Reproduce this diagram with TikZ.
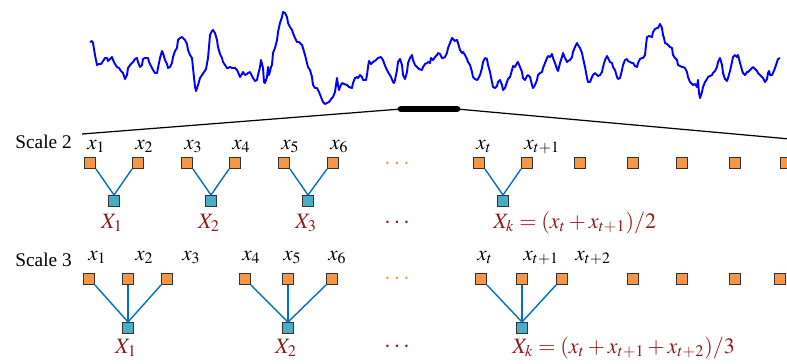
\documentclass[tikz,border=0pt]{standalone}
\usepackage{mathptmx}
\usepackage[no-math]{fontspec}
\setmainfont{Liberation Serif}
\usepackage{tikz}
\usetikzlibrary{positioning,calc}
\definecolor{sigblue}{HTML}{0000FF}
\definecolor{linkblue}{HTML}{0070C0}
\definecolor{rawor}{HTML}{F79646}
\definecolor{avgcyan}{HTML}{4BACC6}
\definecolor{avgred}{HTML}{8B1C1C}
\tikzset{
    every node/.style={font=\fontsize{11}{13}\selectfont},
    scaletxt/.style={anchor=base west,inner sep=0pt},
    rawsq/.style={rectangle,draw=black!80,fill=rawor,line width=0.6pt,minimum size=6.2pt,inner sep=0pt},
    avgsq/.style={rectangle,draw=black!80,fill=avgcyan,line width=0.6pt,minimum size=6.2pt,inner sep=0pt},
    rawlbl/.style={anchor=base west,inner sep=0pt,font=\fontsize{12}{14}\selectfont},
    avglbl/.style={anchor=base,inner sep=0pt,text=avgred,font=\fontsize{12.5}{14}\selectfont},
    avgeq/.style={anchor=base west,inner sep=0pt,text=avgred,font=\fontsize{12.5}{14}\selectfont},
    dotsnode/.style={inner sep=0pt,font=\fontsize{14}{16}\selectfont},
    link/.style={draw=linkblue,line width=0.8pt},
    signal/.style={draw=sigblue,line width=1.1pt,line join=round},
    zoomline/.style={draw=black,line width=0.7pt},
    zoombar/.style={draw=black,line width=3.8pt,line cap=round}
}
\begin{document}
\begin{tikzpicture}[x=0.02cm,y=-0.02cm]
\useasboundingbox (0,0) rectangle (787,363);

% signal
\draw[signal] plot coordinates {
(90,42) (92,41) (93,43) (95,55) (97,65) (99,64) (101,64) (103,61) (105,58) (107,58) (108,61) (110,59) (112,57) (113,60) (115,64) (117,67) (119,68) (121,71) (123,73) (125,79) (127,75) (128,68) (131,64) (133,62) (135,59) (137,58) (138,62) (140,67) (142,65) (143,59) (145,58) (148,58) (149,62) (151,66) (153,70) (155,73) (157,73) (158,68) (160,58) (162,51) (163,53) (165,60) (167,64) (168,68) (170,67) (172,63) (173,57) (175,51) (177,48) (178,40) (180,38) (182,37) (183,38) (185,40) (187,44) (188,50) (190,55) (192,58) (193,68) (195,87) (196,91) (198,85) (200,78) (202,75) (204,72) (206,69) (208,58) (209,47) (210,35) (212,31) (213,30) (215,33) (217,40) (218,47) (220,54) (222,58) (223,62) (225,65) (227,68) (228,68) (230,67) (232,68) (233,68) (235,68) (237,70) (238,72) (240,77) (242,74) (243,72) (245,75) (247,74) (248,73) (250,72) (252,76) (253,78) (255,81) (257,80) (258,75) (260,67) (261,60)
(263,68) (264,82) (265,83) (267,77) (268,67) (269,75) (271,67) (272,65) (273,53) (275,48) (277,40) (278,32) (280,23) (282,17) (283,12) (285,13) (287,17) (288,23) (290,27) (292,30) (293,33) (295,38) (297,42) (299,42) (302,45) (303,48) (305,55) (307,63) (308,67) (310,70) (312,77) (313,85) (315,88) (317,88) (319,92) (321,97) (323,102) (325,104) (327,103) (329,102) (332,98) (333,97) (335,92) (336,85) (337,78) (338,85) (339,90) (340,87) (342,83) (344,84) (347,85) (349,87) (352,88) (353,83) (355,78) (357,77) (358,78) (360,75) (362,77) (363,80) (366,80) (367,75) (368,67) (369,61) (371,64) (373,62) (376,60) (378,58) (381,57) (383,60) (384,63) (386,68) (388,72) (391,77) (393,82) (394,83) (395,80) (397,70) (398,62) (400,59) (402,65) (403,75) (405,79) (407,72) (408,63) (410,58) (412,55) (413,60) (415,65) (417,67) (419,69) (422,70) (423,67) (425,64) (427,63) (428,62) (430,63) (431,58) (433,60) (435,57) (437,55) (438,53) (440,54)
(442,58) (443,58) (445,57) (447,53) (448,48) (450,43) (452,38) (453,39) (455,41) (457,40) (458,43) (460,50) (462,53) (463,52) (465,55) (467,59) (468,62) (470,65) (472,72) (473,77) (475,79) (477,80) (478,79) (480,75) (482,68) (483,62) (485,58) (487,59) (488,65) (490,72) (492,82) (493,87) (495,88) (497,86) (498,82) (500,80) (502,85) (503,90) (505,88) (507,82) (508,79) (510,77) (512,70) (513,66) (515,67) (517,63) (518,62) (520,67) (522,72) (523,78) (525,80) (527,76) (528,75) (530,77) (532,85) (533,88) (535,85) (537,80) (538,75) (540,73) (542,72) (543,68) (545,63) (547,58) (548,56) (550,57) (552,54) (553,58) (555,63) (557,69) (558,71) (560,63) (562,57) (563,53) (565,58) (567,62) (568,61) (570,60) (572,57) (573,52) (575,47) (577,43) (578,45) (580,48) (582,53) (583,58) (585,67) (587,78) (588,82) (590,82) (592,77) (593,75) (595,73) (597,75) (598,76) (600,75) (602,72) (603,67) (605,60) (607,56) (608,58) (610,62)
(612,63) (613,67) (615,70) (617,77) (618,79) (620,78) (622,70) (623,65) (625,60) (627,59) (628,61) (630,62) (632,63) (633,63) (635,66) (637,67) (638,63) (640,59) (642,58) (643,58) (645,55) (646,45) (647,37) (649,36) (652,37) (653,32) (655,29) (657,28) (658,28) (660,24) (662,28) (663,35) (664,38) (665,43) (667,44) (668,45) (670,47) (672,48) (673,55) (675,58) (677,60) (678,65) (680,66) (682,67) (683,67) (685,68) (687,72) (688,77) (690,82) (692,84) (693,85) (695,84) (697,87) (698,80) (699,93) (700,98) (702,92) (703,87) (705,82) (707,79) (708,77) (710,76) (712,75) (713,73) (715,71) (717,67) (718,62) (720,58) (722,65) (723,73) (725,79) (727,81) (728,78) (730,71) (732,62) (733,57) (735,55) (737,57) (738,55) (740,63) (742,70) (743,73) (745,75) (747,72) (748,72) (750,70) (752,68) (753,67) (755,69) (757,71) (758,73) (760,75) (762,77) (763,78) (765,82) (767,79) (768,73) (769,71) (770,75) (772,75) (773,73) (775,68) (777,62) (778,59) (780,58)};

% zoomed window
\coordinate (zl) at (401,109);
\coordinate (zr) at (457,109);
\coordinate (wl) at (82,134);
\coordinate (wr) at (790,139);
\draw[zoomline] (zl) -- (wl);
\draw[zoomline] (zr) -- (wr);
\draw[zoombar] (zl) -- (zr);

% scale 2
\node[scaletxt] (s2) at (15,148) {Scale 2};
\foreach \x [count=\i] in {90,138,187,235,284,333,479,527,580,633,682,735,786}
    \node[rawsq] (a\i) at (\x,163) {};
\foreach \x [count=\i] in {114,211,308,503}
    \node[avgsq] (b\i) at (\x,201) {};
\foreach \i in {1,...,6}
    \node[rawlbl] (la\i) at ([shift={(-3,-8)}]a\i.north) {$x_{\i}$};
\node[rawlbl] (la7) at ([shift={(-3,-8)}]a7.north) {$x_t$};
\node[rawlbl] (la8) at ([shift={(-3,-8)}]a8.north) {$x_{t+1}$};
\foreach \j/\l/\r in {1/1/2,2/3/4,3/5/6,4/7/8} {
    \draw[link] (a\l.south east) -- (b\j.north);
    \draw[link] (a\r.south west) -- (b\j.north);
}
\foreach \i in {1,2,3}
    \node[avglbl] (lb\i) at ([shift={(-2,27)}]b\i.center) {$X_{\i}$};
\node[avgeq] (eq2) at ([shift={(-10,27)}]b4.center) {$X_k = (x_t + x_{t+1})/2$};
\node[dotsnode,text=rawor] (d2a) at (397,164) {$\cdots$};
\node[dotsnode,text=avgred] (d2b) at (397,223) {$\cdots$};

% scale 3
\node[scaletxt] (s3) at (15,266) {Scale 3};
\foreach \x [count=\i] in {89,128,167,245,288,332,481,522,562,633,682,735,780}
    \node[rawsq] (c\i) at (\x,279) {};
\foreach \x [count=\i] in {128,288,522}
    \node[avgsq] (e\i) at (\x,328) {};
\foreach \x/\t [count=\i] in {88/x_1,135/x_2,182/x_3,242/x_4,283/x_5,328/x_6,477/x_t,523/x_{t+1},575/x_{t+2}}
    \node[rawlbl] (lc\i) at (\x,260) {$\t$};
\foreach \j/\l/\m/\r in {1/1/2/3,2/4/5/6,3/7/8/9} {
    \draw[link] (c\l.south east) -- (e\j.north);
    \draw[link] (c\m.south) -- (e\j.north);
    \draw[link] (c\r.south west) -- (e\j.north);
}
\foreach \i in {1,2}
    \node[avglbl] (le\i) at ([shift={(-2,25)}]e\i.center) {$X_{\i}$};
\node[avgeq] (eq3) at ([shift={(-10,25)}]e3.center) {$X_k = (x_t + x_{t+1} + x_{t+2})/3$};
\node[dotsnode,text=rawor] (d3a) at (397,279) {$\cdots$};
\node[dotsnode,text=avgred] (d3b) at (397,347) {$\cdots$};
\end{tikzpicture}
\end{document}
